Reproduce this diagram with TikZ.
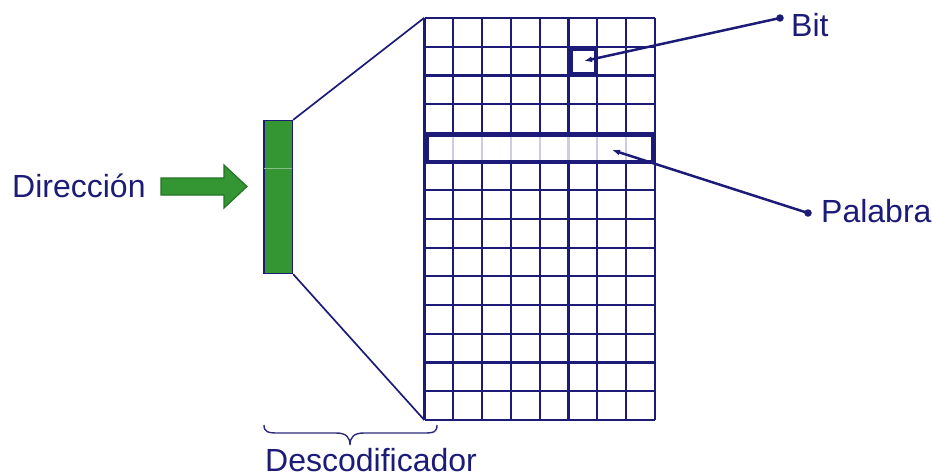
\documentclass[tikz,border=0pt]{standalone}
\usepackage{fontspec}
\setmainfont{Liberation Sans}
\usetikzlibrary{arrows.meta}
\definecolor{navy}{RGB}{28,28,120}
\definecolor{grn}{RGB}{51,150,51}
\definecolor{dkgrn}{RGB}{35,115,35}
\begin{document}
\begin{tikzpicture}[x=1pt,y=-1pt,
  lbl/.style={inner sep=0pt,anchor=base west,text=navy,font=\fontsize{32}{38}\selectfont},
  gridline/.style={draw=navy,line width=2.2pt},
  faintline/.style={draw=navy!22,line width=2.2pt},
  conn/.style={draw=navy,line width=1.7pt},
  pointer/.style={draw=navy,line width=2.5pt,-{Latex[length=8pt,width=6pt]}},
  hilite/.style={draw=navy,line width=3.8pt},
  dot/.style={circle,fill=navy,inner sep=0pt,minimum size=7.5pt}]
\useasboundingbox (0,0) rectangle (932,475);
% memory grid
\node[inner sep=0pt,minimum width=230.4pt,minimum height=401.8pt] (grid) at (539.7,218.9) {};
\foreach \i in {1,...,7}{
  \draw[gridline] ({424.5+28.8*\i},18) -- ({424.5+28.8*\i},132.8);
  \draw[faintline] ({424.5+28.8*\i},132.8) -- ({424.5+28.8*\i},161.5);
  \draw[gridline] ({424.5+28.8*\i},161.5) -- ({424.5+28.8*\i},419.8);
}
\foreach \i in {0,8}{
  \draw[gridline] ({424.5+28.8*\i},18) -- ({424.5+28.8*\i},419.8);
}
\foreach \j in {0,...,14}{
  \draw[gridline] (424.5,{18+28.7*\j}) -- (654.9,{18+28.7*\j});
}
% highlighted bit and word
\node[hilite,inner sep=0pt,minimum width=24.5pt,minimum height=24.5pt] (bit) at (583.5,61.5) {};
\node[hilite,inner sep=0pt,minimum width=226pt,minimum height=27.5pt] (word) at (540,148.5) {};
% decoder
\node[draw=navy,fill=grn,line width=1.3pt,inner sep=0pt,minimum width=28.5pt,minimum height=153pt] (dec) at (278.25,197) {};
\draw[grn!60!white,line width=0.6pt] ([xshift=0.7pt]dec.west |- 0,168) -- ([xshift=-0.7pt]dec.east |- 0,168);
\draw[conn] (dec.north east) -- (grid.north west);
\draw[conn] (dec.south east) -- (grid.south west);
% input arrow
\draw[fill=grn,draw=dkgrn,line width=1.2pt] (161,178) -- (224,178) -- (224,165) -- (247,186.5) -- (224,208) -- (224,195) -- (161,195) -- cycle;
% labels
\node[lbl] (dir) at (12,197) {Dirección};
\node[lbl] (bitlbl) at (791,36) {Bit};
\node[lbl] (pallbl) at (821,222) {Palabra};
\node[lbl] (desc) at (265,471) {Descodificador};
% pointers
\node[dot] (bitdot) at (780,18) {};
\node[dot] (paldot) at (808,213) {};
\draw[pointer] (bitdot.center) -- (584,61);
\draw[pointer] (paldot.center) -- (612,150);
% brace
\draw[draw=navy!85!gray,line width=1.4pt] (264,425) .. controls (264,432) and (268,433) .. (278,433) -- (336,433) .. controls (346,433) and (350,437) .. (350,445) .. controls (350,437) and (354,433) .. (364,433) -- (424,433) .. controls (434,433) and (437,432) .. (437,425);
\end{tikzpicture}
\end{document}
